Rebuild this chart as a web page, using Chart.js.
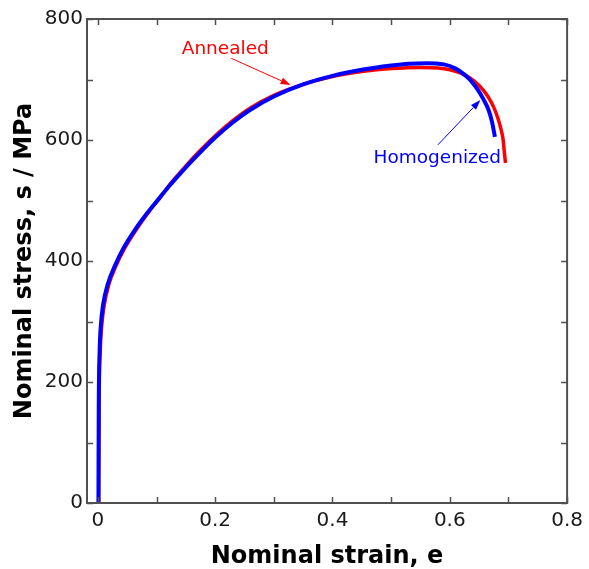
<!DOCTYPE html>
<html>
<head>
<meta charset="utf-8">
<title>Nominal stress-strain curves</title>
<script src="https://cdn.jsdelivr.net/npm/chart.js@4.4.1/dist/chart.umd.min.js"></script>
<style>
    html, body { margin: 0; padding: 0; background: #ffffff; }
    #chart { display: block; }
</style>
</head>
<body>
<canvas id="chart" width="589" height="569"></canvas>
<script>
// values
var homogenizedStrain = [0.001, 0.0015, 0.003, 0.005, 0.009, 0.017, 0.029, 0.043, 0.065, 0.088, 0.104, 0.12, 0.14, 0.16, 0.18, 0.2, 0.23, 0.26, 0.3, 0.35, 0.4, 0.45, 0.5, 0.53, 0.56, 0.59, 0.61, 0.625, 0.637, 0.647, 0.657, 0.666, 0.672, 0.677];
var homogenizedStress = [0, 150, 250, 292, 328, 362, 392, 420, 454, 484, 503, 522, 544, 565, 585, 604, 629, 650, 672, 692, 706, 716, 723, 726, 727, 725, 718, 708, 697, 684, 668, 650, 630, 605];

var annealedStrain = [0.0015, 0.002, 0.004, 0.0065, 0.011, 0.019, 0.031, 0.045, 0.067, 0.089, 0.105, 0.12, 0.14, 0.16, 0.18, 0.2, 0.23, 0.26, 0.3, 0.35, 0.4, 0.45, 0.5, 0.55, 0.58, 0.6, 0.62, 0.635, 0.65, 0.665, 0.675, 0.683, 0.688, 0.691, 0.693, 0.695];
var annealedStress = [0, 150, 250, 292, 328, 362, 392, 420, 454, 484, 503, 523, 546, 568, 588, 607, 632, 653, 674, 692, 705, 713, 718, 720, 719, 716, 710, 702, 690, 672, 654, 633, 615, 600, 580, 562];

var strainTicks = [0, 0.1, 0.2, 0.3, 0.4, 0.5, 0.6, 0.7, 0.8];
var strainLabels = ['0', '', '0.2', '', '0.4', '', '0.6', '', '0.8'];
var stressTicks = [0, 100, 200, 300, 400, 500, 600, 700, 800];
var stressLabels = ['0', '', '200', '', '400', '', '600', '', '800'];

var seriesNames = ['Homogenized', 'Annealed'];
var seriesColors = ['#0000ff', '#ff0000'];

// callouts, anchored in data units: text start, arrow tail, arrow tip
var callouts = [
    {text: 'Annealed', color: '#ff0000', at: [0.143, 742], from: [0.2275, 735], to: [0.3286, 691]},
    {text: 'Homogenized', color: '#0000ff', at: [0.470, 562], from: [0.5797, 592], to: [0.6522, 666]}
];

function toPoints(xs, ys)
{
    var points = [];
    for (var i = 0; i < xs.length; ++i)
    {
        points.push({x: xs[i], y: ys[i]});
    }
    return points;
}

var frameColor = '#505050';

var frameTicks = {
    id: 'frameTicks',
    afterDatasetsDraw: function(chart)
    {
        var ctx = chart.ctx;
        var area = chart.chartArea;
        var xs = chart.scales.x;
        var ys = chart.scales.y;
        var len = 6;

        ctx.save();
        ctx.strokeStyle = frameColor;
        ctx.lineWidth = 1.5;

        ctx.beginPath();
        strainTicks.forEach(function(v)
        {
            var px = Math.round(xs.getPixelForValue(v)) + 0.5;
            ctx.moveTo(px, area.bottom);
            ctx.lineTo(px, area.bottom - len);
            ctx.moveTo(px, area.top);
            ctx.lineTo(px, area.top + len);
        });
        stressTicks.forEach(function(v)
        {
            var py = Math.round(ys.getPixelForValue(v)) + 0.5;
            ctx.moveTo(area.left, py);
            ctx.lineTo(area.left + len, py);
            ctx.moveTo(area.right, py);
            ctx.lineTo(area.right - len, py);
        });
        ctx.stroke();

        ctx.lineWidth = 2;
        ctx.strokeRect(area.left, area.top, area.right - area.left, area.bottom - area.top);
        ctx.restore();
    }
};

var calloutPlugin = {
    id: 'callouts',
    afterDatasetsDraw: function(chart)
    {
        var ctx = chart.ctx;
        var xs = chart.scales.x;
        var ys = chart.scales.y;

        ctx.save();
        callouts.forEach(function(c)
        {
            var x0 = xs.getPixelForValue(c.from[0]);
            var y0 = ys.getPixelForValue(c.from[1]);
            var x1 = xs.getPixelForValue(c.to[0]);
            var y1 = ys.getPixelForValue(c.to[1]);
            var angle = Math.atan2(y1 - y0, x1 - x0);
            var head = 10;
            var half = 3.5;

            ctx.strokeStyle = c.color;
            ctx.fillStyle = c.color;
            ctx.lineWidth = 1;
            ctx.beginPath();
            ctx.moveTo(x0, y0);
            ctx.lineTo(x1 - Math.cos(angle) * head, y1 - Math.sin(angle) * head);
            ctx.stroke();

            ctx.beginPath();
            ctx.moveTo(x1, y1);
            ctx.lineTo(x1 - Math.cos(angle) * head - Math.sin(angle) * half, y1 - Math.sin(angle) * head + Math.cos(angle) * half);
            ctx.lineTo(x1 - Math.cos(angle) * head + Math.sin(angle) * half, y1 - Math.sin(angle) * head - Math.cos(angle) * half);
            ctx.closePath();
            ctx.fill();

            ctx.font = '18.5px "DejaVu Sans"';
            ctx.textAlign = 'left';
            ctx.textBaseline = 'alphabetic';
            ctx.fillText(c.text, xs.getPixelForValue(c.at[0]), ys.getPixelForValue(c.at[1]));
        });
        ctx.restore();
    }
};

var tickFont = {family: '"DejaVu Sans"', size: 20};
var titleFont = {family: '"DejaVu Sans"', size: 24, weight: 'bold', lineHeight: 1};

new Chart(document.getElementById('chart').getContext('2d'), {
    type: 'line',
    data: {
        datasets: [
            {
                label: seriesNames[0],
                data: toPoints(homogenizedStrain, homogenizedStress),
                borderColor: seriesColors[0],
                borderWidth: 4,
                pointRadius: 0,
                cubicInterpolationMode: 'monotone',
                fill: false,
                order: 0
            },
            {
                label: seriesNames[1],
                data: toPoints(annealedStrain, annealedStress),
                borderColor: seriesColors[1],
                borderWidth: 3.5,
                pointRadius: 0,
                cubicInterpolationMode: 'monotone',
                fill: false,
                order: 1
            }
        ]
    },
    options: {
        responsive: false,
        animation: false,
        devicePixelRatio: 1,
        layout: {padding: {left: 0, right: 17, top: 19, bottom: 0}},
        plugins: {
            legend: {display: false},
            tooltip: {enabled: false}
        },
        scales: {
            x: {
                type: 'linear',
                min: -0.0185,
                max: 0.8,
                afterBuildTicks: function(scale)
                {
                    scale.ticks = strainTicks.map(function(v) { return {value: v}; });
                },
                afterFit: function(scale)
                {
                    scale.height = 66;
                },
                ticks: {
                    autoSkip: false,
                    maxRotation: 0,
                    padding: 6,
                    color: '#1a1a1a',
                    font: tickFont,
                    callback: function(value, index) { return strainLabels[index]; }
                },
                grid: {display: false, drawTicks: false},
                border: {display: false},
                title: {
                    display: true,
                    text: 'Nominal strain, e',
                    color: '#000000',
                    font: titleFont,
                    padding: {top: 0, bottom: 0}
                }
            },
            y: {
                type: 'linear',
                min: 0,
                max: 800,
                afterBuildTicks: function(scale)
                {
                    scale.ticks = stressTicks.map(function(v) { return {value: v}; });
                },
                afterFit: function(scale)
                {
                    scale.width = 87;
                },
                ticks: {
                    autoSkip: false,
                    padding: 4,
                    color: '#1a1a1a',
                    font: tickFont,
                    callback: function(value, index) { return stressLabels[index]; }
                },
                grid: {display: false, drawTicks: false},
                border: {display: false},
                title: {
                    display: true,
                    text: 'Nominal stress, s / MPa',
                    color: '#000000',
                    font: titleFont,
                    padding: {top: 13, bottom: 0}
                }
            }
        }
    },
    plugins: [frameTicks, calloutPlugin]
});
</script>
</body>
</html>
